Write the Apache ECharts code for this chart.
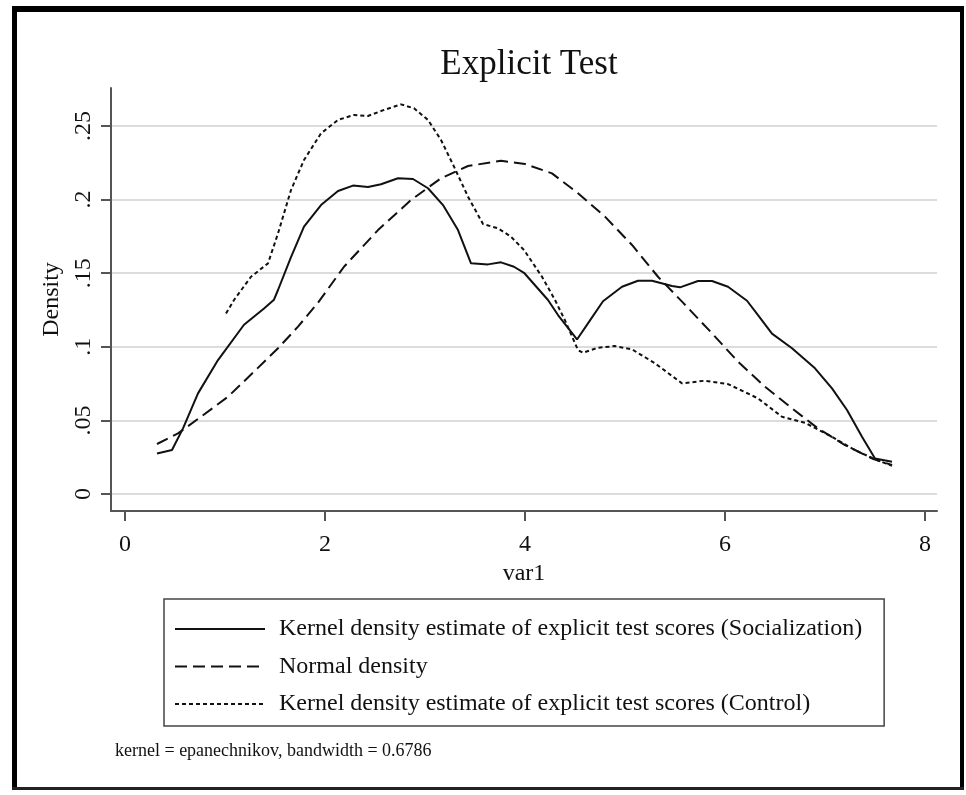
<!DOCTYPE html>
<html>
<head>
<meta charset="UTF-8">
<title>Explicit Test</title>
<script src="https://cdn.jsdelivr.net/npm/echarts@6/dist/echarts.min.js"></script>
<style>
  html, body { margin: 0; padding: 0; background: #fff; }
</style>
</head>
<body>
<div id="main" style="width: 966px;height:795px;"></div>
<script type="text/javascript">
// values: [var1, density]
var socialization = [
  [0.32,0.0276],[0.47,0.0299],[0.58,0.0446],[0.73,0.0684],[0.93,0.091],[1.19,0.115],
  [1.39,0.126],[1.49,0.132],[1.53,0.1386],[1.66,0.161],[1.79,0.1816],[1.96,0.1963],
  [2.13,0.2058],[2.28,0.2095],[2.43,0.2086],[2.56,0.2104],[2.73,0.2145],[2.88,0.214],
  [3.03,0.2077],[3.18,0.1963],[3.33,0.1793],[3.46,0.1567],[3.63,0.156],[3.76,0.1574],
  [3.89,0.1544],[3.99,0.1503],[4.23,0.1318],[4.33,0.1216],[4.52,0.105],[4.65,0.118],
  [4.78,0.131],[4.97,0.1408],[5.13,0.1449],[5.27,0.1449],[5.47,0.1413],[5.55,0.1404],
  [5.73,0.1447],[5.87,0.1447],[6.03,0.1408],[6.22,0.1313],[6.33,0.1216],[6.47,0.109],
  [6.67,0.099],[6.90,0.0854],[7.07,0.0718],[7.22,0.0571],[7.37,0.0389],[7.50,0.0242],
  [7.67,0.022]
];
var normal = [
  [0.32,0.034],[0.53,0.0412],[0.76,0.0525],[1.03,0.0661],[1.29,0.0831],[1.53,0.099],
  [1.73,0.1137],[1.93,0.130],[2.19,0.1544],[2.53,0.1793],[2.86,0.1997],[3.16,0.2145],
  [3.43,0.2228],[3.76,0.2264],[4.0,0.2242],[4.27,0.2178],[4.53,0.2043],[4.80,0.1884],
  [5.07,0.1692],[5.33,0.1476],[5.58,0.130],[5.87,0.1092],[6.13,0.0899],[6.40,0.0729],
  [6.67,0.0582],[6.93,0.0446],[7.20,0.0333],[7.47,0.0242],[7.67,0.0197]
];
var control = [
  [1.01,0.1227],[1.09,0.1318],[1.26,0.1476],[1.43,0.1567],[1.53,0.177],[1.66,0.2065],
  [1.79,0.2269],[1.96,0.245],[2.13,0.2541],[2.29,0.2575],[2.43,0.2568],[2.59,0.2609],
  [2.76,0.2647],[2.89,0.262],[3.03,0.2541],[3.16,0.2405],[3.29,0.2224],[3.43,0.202],
  [3.58,0.1834],[3.73,0.1805],[3.86,0.1748],[3.99,0.1658],[4.17,0.1476],[4.30,0.1318],
  [4.40,0.118],[4.53,0.0978],[4.58,0.096],[4.73,0.0994],[4.90,0.1005],[5.07,0.0983],
  [5.30,0.0888],[5.57,0.0752],[5.80,0.077],[6.03,0.0747],[6.33,0.065],[6.57,0.0525],
  [6.80,0.0484],[7.07,0.0389],[7.30,0.0299],[7.50,0.0236],[7.67,0.0192]
];
var xTicks = [0, 2, 4, 6, 8];
var yTicks = [0, 0.05, 0.1, 0.15, 0.2, 0.25];
var seriesNames = [
  'Kernel density estimate of explicit test scores (Socialization)',
  'Normal density',
  'Kernel density estimate of explicit test scores (Control)'
];

var serif = 'Liberation Serif, Times New Roman, serif';
var ink = '#111';

var myChart = echarts.init(document.getElementById('main'));

function lineSeries(name, data, type) {
  return {
    type: 'line',
    name: name,
    data: data,
    symbol: 'none',
    showSymbol: false,
    smooth: false,
    silent: true,
    lineStyle: { color: ink, width: 2, type: type },
    itemStyle: { color: ink }
  };
}

var option = {
  animation: false,
  backgroundColor: '#fff',
  title: [{
    text: 'Explicit Test',
    left: 524,
    textAlign: 'center',
    top: 42,
    textStyle: { fontFamily: serif, fontSize: 35, fontWeight: 'normal', color: ink }
  }, {
    text: 'kernel = epanechnikov, bandwidth = 0.6786',
    left: 115,
    top: 742,
    padding: 0,
    textStyle: { fontFamily: serif, fontSize: 18, fontWeight: 'normal', color: ink }
  }],
  grid: { left: 111, right: 29, top: 88, bottom: 284 },
  legend: {
    orient: 'vertical',
    left: 164,
    top: 599,
    padding: [17, 22, 9, 10],
    itemWidth: 90,
    itemHeight: 14,
    itemGap: 11.5,
    borderColor: '#444',
    borderWidth: 1.5,
    selectedMode: false,
    data: seriesNames,
    itemStyle: { opacity: 0 },
    textStyle: { fontFamily: serif, fontSize: 24, color: ink, lineHeight: 26, padding: [0, 0, 0, 9] }
  },
  xAxis: {
    type: 'value',
    min: -0.14,
    max: 8.12,
    name: 'var1',
    nameLocation: 'middle',
    nameGap: 45,
    nameTextStyle: { fontFamily: serif, fontSize: 24, color: ink },
    axisLine: { show: true, onZero: false, lineStyle: { color: '#555', width: 2 } },
    axisTick: { show: true, customValues: xTicks, length: 10, lineStyle: { color: '#555', width: 2 } },
    axisLabel: { customValues: xTicks, margin: 22, fontFamily: serif, fontSize: 24, color: ink },
    splitLine: { show: false }
  },
  yAxis: {
    type: 'value',
    min: -0.0115,
    max: 0.2758,
    name: 'Density',
    nameLocation: 'middle',
    nameGap: 39,
    nameTextStyle: { fontFamily: serif, fontSize: 24, color: ink },
    axisLine: { show: true, onZero: false, lineStyle: { color: '#555', width: 2 } },
    axisTick: { show: true, customValues: yTicks, length: 10, lineStyle: { color: '#555', width: 2 } },
    axisLabel: {
      customValues: yTicks,
      rotate: 90,
      margin: 15,
      fontFamily: serif,
      fontSize: 24,
      color: ink,
      formatter: function (v) { return v === 0 ? '0' : String(v).replace(/^0/, ''); }
    },
    splitLine: { show: true, lineStyle: { color: '#dcdcdc', width: 2 } }
  },
  graphic: [
    { type: 'rect', shape: { x: 12, y: 6, width: 5, height: 784 }, style: { fill: '#000' } },
    { type: 'rect', shape: { x: 12, y: 6, width: 952, height: 6 }, style: { fill: '#000' } },
    { type: 'rect', shape: { x: 960, y: 6, width: 4, height: 784 }, style: { fill: '#000' } },
    { type: 'rect', shape: { x: 12, y: 787, width: 952, height: 3 }, style: { fill: '#222' } }
  ],
  series: [
    lineSeries(seriesNames[0], socialization, 'solid'),
    lineSeries(seriesNames[1], normal, [12, 6]),
    lineSeries(seriesNames[2], control, [4, 3])
  ]
};

myChart.setOption(option);
</script>
</body>
</html>
